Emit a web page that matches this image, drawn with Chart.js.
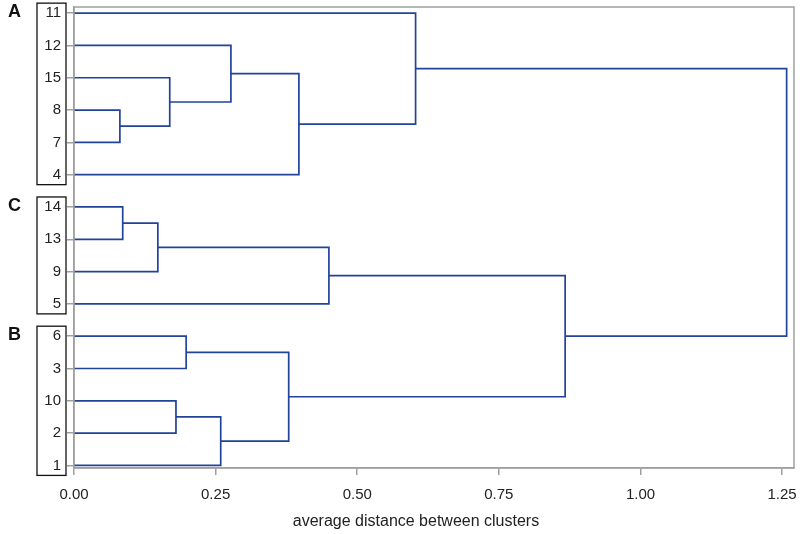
<!DOCTYPE html>
<html>
<head>
<meta charset="utf-8">
<script src="https://cdn.jsdelivr.net/npm/chart.js@4.4.1/dist/chart.umd.min.js"></script>
<style>
  html, body { margin: 0; padding: 0; background: #fff; }
  #wrap { width: 800px; height: 534px; }
</style>
</head>
<body>
<div id="wrap"><canvas id="canvas"></canvas></div>
<script>
// leaf order top to bottom
const leaves = ["11", "12", "15", "8", "7", "4", "14", "13", "9", "5", "6", "3", "10", "2", "1"];

// merges: [left child, right child, height]; "nK" is the K-th merge
const mergeLeft = ["8", "15", "12", "n2", "11", "14", "n5", "n6", "6", "10", "n9", "n8", "n7", "n4"];
const mergeRight = ["7", "n0", "n1", "4", "n3", "13", "9", "5", "3", "2", "1", "n10", "n11", "n12"];
const mergeHeight = [0.081, 0.169, 0.277, 0.397, 0.603, 0.086, 0.148, 0.450, 0.198, 0.180, 0.259, 0.379, 0.867, 1.258];

// cluster boxes on the left
const groupNames = ["A", "C", "B"];
const groupFirst = ["11", "14", "6"];
const groupLast = ["4", "5", "1"];

const xTicks = [0, 0.25, 0.5, 0.75, 1.0, 1.25];
const xTitle = "average distance between clusters";

const lineColor = "#22439a";
const frameColor = "#a0a0a0";
const textColor = "#222";
const fontFamily = "'Liberation Sans', Arial, sans-serif";

// node positions: leaves sit at their index, merges halfway between children
let nodes = {};
leaves.forEach((l, i) => { nodes[l] = { x: 0, y: i }; });
let datasets = [];
mergeHeight.forEach((h, i) => {
  let a = nodes[mergeLeft[i]];
  let b = nodes[mergeRight[i]];
  nodes["n" + i] = { x: h, y: (a.y + b.y) / 2 };
  datasets.push({
    data: [{ x: a.x, y: a.y }, { x: h, y: a.y }, { x: h, y: b.y }, { x: b.x, y: b.y }],
    showLine: true,
    borderColor: lineColor,
    borderWidth: 1.7,
    borderJoinStyle: "miter",
    pointRadius: 0,
    tension: 0,
    fill: false,
  });
});

const framePlugin = {
  id: "frame",
  afterDraw(chart) {
    let ctx = chart.ctx;
    let a = chart.chartArea;
    let ys = chart.scales.y;
    ctx.save();
    ctx.strokeStyle = frameColor;
    ctx.lineWidth = 1.5;
    ctx.strokeRect(a.left, a.top, a.right - a.left, a.bottom - a.top);

    // group boxes and letters
    ctx.strokeStyle = "#111";
    ctx.lineWidth = 1.3;
    ctx.fillStyle = "#111";
    ctx.font = "bold 18px " + fontFamily;
    ctx.textBaseline = "middle";
    groupNames.forEach((g, i) => {
      let y1 = ys.getPixelForValue(leaves.indexOf(groupFirst[i])) - 10;
      let y2 = ys.getPixelForValue(leaves.indexOf(groupLast[i])) + 10;
      ctx.strokeRect(37, y1, 29, y2 - y1);
      ctx.fillText(g, 8, y1 + 9);
    });

    // axis title
    ctx.fillStyle = textColor;
    ctx.font = "16px " + fontFamily;
    ctx.textAlign = "center";
    ctx.fillText(xTitle, (a.left + a.right) / 2 - 18, 522);
    ctx.restore();
  },
};

let ctx = document.getElementById("canvas").getContext("2d");
let chart = new Chart(ctx, {
  type: "scatter",
  data: { datasets: datasets },
  plugins: [framePlugin],
  options: {
    responsive: true,
    maintainAspectRatio: false,
    animation: false,
    layout: { padding: { top: 7, right: 6, left: 0, bottom: 0 } },
    plugins: { legend: { display: false }, tooltip: { enabled: false } },
    scales: {
      x: {
        type: "linear",
        min: 0,
        max: 1.271,
        afterBuildTicks: (s) => { s.ticks = xTicks.map((v) => ({ value: v })); },
        afterFit: (s) => { s.height = 66; s.paddingLeft = 0; s.paddingRight = 0; },
        grid: { drawOnChartArea: false, tickLength: 7, color: frameColor, lineWidth: 1.5 },
        border: { color: frameColor, width: 1.5 },
        ticks: {
          color: textColor,
          font: { family: fontFamily, size: 15 },
          padding: 11,
          maxRotation: 0,
          callback: (v) => v.toFixed(2),
        },
      },
      y: {
        type: "linear",
        reverse: true,
        min: -0.19,
        max: 14.08,
        afterBuildTicks: (s) => { s.ticks = leaves.map((l, i) => ({ value: i })); },
        afterFit: (s) => { s.width = 74; s.paddingTop = 0; s.paddingBottom = 0; },
        grid: { drawOnChartArea: false, tickLength: 7, color: frameColor, lineWidth: 1.5 },
        border: { color: frameColor, width: 1.5 },
        ticks: {
          color: textColor,
          font: { family: fontFamily, size: 15 },
          padding: 6,
          callback: (v) => leaves[v],
        },
      },
    },
  },
});
</script>
</body>
</html>
